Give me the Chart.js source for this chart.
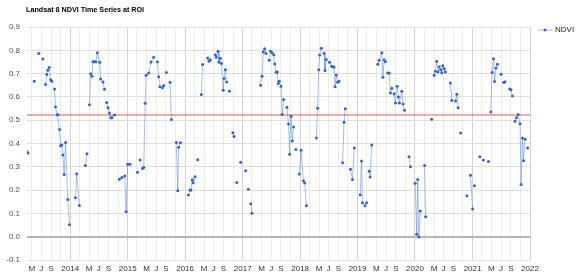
<!DOCTYPE html>
<html>
<head>
<meta charset="utf-8">
<script src="https://cdn.jsdelivr.net/npm/chart.js@4/dist/chart.umd.min.js"></script>
<style>
    html, body { margin: 0; padding: 0; background: #fff; }
</style>
</head>
<body>
<canvas id="ndviChart" width="576" height="276"></canvas>
<script>
/* ==================== Data ==================== */
const chartTitle = 'Landsat 8 NDVI Time Series at ROI';
const seriesName = 'NDVI';

// image dates; a null NDVI value is a cloudy scene and breaks the line
const dates = [
    // 2013
    '2013-04-01', '2013-04-07', '2013-05-01',
    '2013-05-17', '2013-06-01',
    '2013-06-15', '2013-06-30',
    '2013-07-11', '2013-07-20',
    '2013-07-28', '2013-08-05', '2013-08-11', '2013-08-20', '2013-08-29', '2013-09-06', '2013-09-14',
    '2013-09-23', '2013-09-29', '2013-10-10', '2013-10-14', '2013-10-25', '2013-10-31', '2013-11-08', '2013-11-15', '2013-11-23', '2013-12-02', '2013-12-16', '2013-12-27', '2014-01-15',
    // 2014
    '2014-02-03', '2014-02-11', '2014-02-28', '2014-03-20',
    '2014-04-07', '2014-04-17', '2014-04-25',
    '2014-05-03', '2014-05-11', '2014-05-19', '2014-05-25', '2014-06-03', '2014-06-12', '2014-06-22', '2014-07-07', '2014-07-13', '2014-07-28', '2014-08-06', '2014-08-13',
    '2014-08-20', '2014-08-29', '2014-09-06', '2014-09-15', '2014-09-23', '2014-10-10', '2014-10-25',
    '2014-11-09', '2014-11-25', '2014-12-13', '2014-12-22', '2015-01-01', '2015-01-16', '2015-02-10',
    // 2015
    '2015-03-04', '2015-03-12',
    '2015-03-21', '2015-03-28',
    '2015-04-05', '2015-04-13', '2015-04-22', '2015-04-28', '2015-05-15', '2015-05-29', '2015-06-15', '2015-06-28',
    '2015-07-09', '2015-07-17', '2015-07-25', '2015-08-10', '2015-08-18', '2015-08-26',
    '2015-09-04', '2015-09-15',
    '2015-09-27', '2015-10-06', '2015-10-20',
    '2015-11-06', '2015-11-15', '2015-11-21', '2015-12-02', '2015-12-20',
    // 2016
    '2016-01-22', '2016-02-01', '2016-02-07', '2016-02-15', '2016-02-21', '2016-03-04', '2016-03-12',
    '2016-03-21', '2016-04-05',
    '2016-04-13', '2016-04-21', '2016-05-07',
    '2016-05-23', '2016-06-01', '2016-06-09', '2016-06-25',
    '2016-07-11', '2016-07-17', '2016-07-28', '2016-08-03', '2016-08-12', '2016-08-19', '2016-08-30', '2016-09-05', '2016-09-13', '2016-09-21', '2016-10-01',
    '2016-10-09', '2016-10-20',
    '2016-10-30', '2016-11-07', '2016-11-15',
    '2016-11-24', '2016-12-05',
    '2016-12-19', '2017-01-05',
    // 2017
    '2017-01-20', '2017-01-28',
    '2017-02-06', '2017-02-14',
    '2017-02-21', '2017-03-01', '2017-04-01',
    '2017-04-25', '2017-05-04', '2017-05-12', '2017-05-20', '2017-05-29', '2017-06-10',
    '2017-06-19', '2017-06-27', '2017-07-06', '2017-07-17', '2017-07-24', '2017-08-02', '2017-08-09', '2017-08-15', '2017-08-21', '2017-09-01', '2017-09-09', '2017-09-18', '2017-09-28',
    '2017-10-09', '2017-10-19', '2017-10-26', '2017-11-04', '2017-11-12', '2017-11-20', '2017-11-28',
    '2017-12-05', '2017-12-15',
    '2017-12-27', '2018-01-07', '2018-01-22', '2018-01-30', '2018-02-10', '2018-03-10',
    // 2018
    '2018-04-14', '2018-04-22', '2018-04-29', '2018-05-05', '2018-05-16', '2018-05-24',
    '2018-06-02', '2018-06-08', '2018-06-16', '2018-06-28',
    '2018-07-07', '2018-07-20', '2018-07-29', '2018-08-04', '2018-08-11', '2018-08-19', '2018-08-27', '2018-09-05', '2018-09-18',
    '2018-09-28', '2018-10-07', '2018-10-15', '2018-11-01',
    '2018-11-17', '2018-11-30', '2018-12-11', '2018-12-30',
    // 2019
    '2019-01-18', '2019-01-26', '2019-02-01', '2019-02-17', '2019-02-28', '2019-03-08',
    '2019-03-16', '2019-03-22', '2019-04-01', '2019-04-20',
    '2019-05-10', '2019-05-18', '2019-06-04', '2019-06-11', '2019-06-19', '2019-06-27', '2019-07-05',
    '2019-07-12', '2019-07-21', '2019-07-29', '2019-08-07', '2019-08-14',
    '2019-08-21', '2019-08-30', '2019-09-09', '2019-09-18', '2019-09-24', '2019-10-09', '2019-10-17', '2019-10-26', '2019-11-10',
    '2019-11-24', '2019-12-03', '2019-12-20',
    // 2020
    '2020-01-02', '2020-01-12', '2020-01-18', '2020-01-26', '2020-02-04', '2020-02-20',
    '2020-03-02', '2020-03-09', '2020-03-30',
    '2020-04-16', '2020-04-25',
    '2020-05-02', '2020-05-10', '2020-05-18', '2020-05-26', '2020-06-03', '2020-06-12', '2020-06-19', '2020-06-26', '2020-07-05', '2020-07-12', '2020-07-28',
    '2020-08-13', '2020-08-22', '2020-09-05',
    '2020-09-15', '2020-09-23', '2020-10-01', '2020-10-09',
    '2020-10-17', '2020-11-10',
    '2020-11-26', '2020-12-08',
    '2020-12-19', '2021-01-01', '2021-01-07',
    // 2021
    '2021-01-13', '2021-02-01',
    '2021-02-16', '2021-02-28',
    '2021-03-10', '2021-03-25',
    '2021-04-12', '2021-04-20',
    '2021-04-27', '2021-05-05', '2021-05-14', '2021-05-21', '2021-05-30', '2021-06-08', '2021-06-20',
    '2021-07-01', '2021-07-10',
    '2021-07-18', '2021-07-26', '2021-08-10',
    '2021-08-25', '2021-09-02', '2021-09-11', '2021-09-20',
    '2021-09-28', '2021-10-07', '2021-10-17', '2021-10-30', '2021-11-05', '2021-11-14', '2021-11-21', '2021-12-01', '2021-12-09',
    '2021-12-17'
];

const ndvi = [
    // 2013
    0.364, 0.359, null,
    0.667, null,
    0.786, null,
    0.763, null,
    0.653, 0.696, 0.714, 0.726, 0.674, 0.667, null,
    0.634, 0.557, 0.523, 0.523, 0.460, 0.390, 0.394, 0.351, 0.267, 0.404, 0.160, 0.051, null,
    // 2014
    0.167, 0.270, 0.134, null,
    0.306, 0.356, null,
    0.566, 0.699, 0.689, 0.751, 0.751, 0.751, 0.790, 0.749, 0.677, 0.664, 0.633, null,
    0.576, 0.553, 0.531, 0.511, 0.511, 0.522, null,
    0.247, 0.254, 0.261, 0.107, 0.311, 0.311, null,
    // 2015
    0.277, null,
    0.329, null,
    0.293, 0.297, 0.573, 0.693, 0.703, 0.750, 0.770, null,
    0.751, 0.686, 0.644, 0.639, 0.649, null,
    0.705, null,
    0.663, 0.503, null,
    0.404, 0.197, 0.384, 0.403, null,
    // 2016
    0.179, 0.200, 0.200, 0.244, 0.232, 0.257, null,
    0.330, null,
    0.610, 0.739, null,
    0.767, 0.753, 0.759, null,
    0.781, 0.770, 0.796, 0.749, 0.766, 0.743, 0.629, 0.679, 0.716, 0.664, null,
    0.624, null,
    0.446, 0.430, null,
    0.233, null,
    0.319, null,
    // 2017
    0.283, null,
    0.204, null,
    0.141, 0.101, null,
    0.650, 0.689, 0.793, 0.807, 0.786, null,
    0.757, 0.796, 0.790, 0.781, 0.741, 0.706, 0.707, 0.657, 0.667, 0.646, 0.524, 0.589, null,
    0.556, 0.484, 0.354, 0.517, 0.411, 0.471, null,
    0.374, null,
    0.269, 0.371, 0.240, 0.231, 0.133, null,
    // 2018
    0.424, 0.551, 0.717, 0.780, 0.809, null,
    0.787, 0.713, 0.760, null,
    0.749, 0.731, 0.730, 0.727, 0.644, 0.694, 0.663, 0.667, null,
    0.317, 0.491, 0.549, null,
    0.290, 0.246, 0.381, null,
    // 2019
    0.180, 0.325, 0.146, 0.133, 0.146, null,
    0.281, 0.256, 0.394, null,
    0.740, 0.757, 0.789, 0.684, 0.759, 0.751, null,
    0.703, 0.703, 0.617, 0.637, null,
    0.613, 0.574, 0.646, 0.600, 0.574, 0.624, 0.570, 0.543, null,
    0.343, 0.300, null,
    // 2020
    0.229, 0.010, 0.246, -0.001, 0.110, null,
    0.306, 0.086, null,
    0.504, null,
    0.693, 0.710, 0.753, 0.707, 0.729, 0.717, 0.704, 0.734, 0.721, 0.707, null,
    0.660, 0.585, null,
    0.582, 0.611, 0.553, null,
    0.445, null,
    0.176, null,
    0.264, 0.119, null,
    // 2021
    0.219, null,
    0.343, null,
    0.329, null,
    0.323, null,
    0.535, 0.705, 0.764, 0.666, 0.724, 0.740, null,
    0.697, null,
    0.662, 0.665, null,
    0.634, 0.631, 0.604, null,
    0.495, 0.511, 0.525, 0.485, 0.224, 0.424, 0.326, 0.418, null,
    0.381
];

// reference level drawn in red across the whole period
const meanNdvi = 0.522;

// axes
const xStart = '2013-04-01';
const xEnd = '2022-01-01';
const tickMonths = [0, 2, 4, 6, 8, 10];
const monthLabels = ['', '', 'M', 'J', 'S', ''];
const yMin = -0.1;
const yMax = 0.9;
const yStep = 0.05;

/* ==================== Helpers ==================== */
const FONT_FAMILY = 'Arial, "Liberation Sans", sans-serif';

function buildMonthTicks() {
    const lo = Date.parse(xStart);
    const hi = Date.parse(xEnd);
    const ticks = [];
    for (let y = 2013; y <= 2022; y++) {
        tickMonths.forEach(m => {
            const v = Date.UTC(y, m, 1);
            if (v >= lo && v <= hi) ticks.push({ value: v });
        });
    }
    return ticks;
}

function buildValueTicks() {
    const ticks = [];
    const n = Math.round((yMax - yMin) / yStep);
    for (let i = 0; i <= n; i++) {
        ticks.push({ value: Math.round((yMin + i * yStep) * 100) / 100 });
    }
    return ticks;
}

function isYearTick(value) {
    return new Date(value).getUTCMonth() === 0;
}

/* ==================== Title & legend ==================== */
const titleLegend = {
    id: 'titleLegend',
    afterDraw(chart) {
        const ctx = chart.ctx;
        const area = chart.chartArea;
        ctx.save();
        ctx.textBaseline = 'middle';

        ctx.font = 'bold 7.2px ' + FONT_FAMILY;
        ctx.fillStyle = '#000';
        ctx.fillText(chartTitle, area.left - 1, 10);

        const ly = area.top + 3;
        const lx = area.right + 8;
        ctx.strokeStyle = 'rgba(51,102,204,0.45)';
        ctx.lineWidth = 1;
        ctx.beginPath();
        ctx.moveTo(lx, ly);
        ctx.lineTo(lx + 14, ly);
        ctx.stroke();
        ctx.fillStyle = '#3366cc';
        ctx.beginPath();
        ctx.arc(lx + 7, ly, 1.4, 0, Math.PI * 2);
        ctx.fill();

        ctx.font = '8px ' + FONT_FAMILY;
        ctx.fillStyle = '#222';
        ctx.fillText(seriesName, lx + 17, ly);
        ctx.restore();
    }
};

/* ==================== Chart ==================== */
const ndviPoints = dates.map((d, i) => ({ x: Date.parse(d), y: ndvi[i] }));

new Chart(document.getElementById('ndviChart'), {
    type: 'line',
    data: {
        datasets: [
            {
                label: seriesName,
                data: ndviPoints,
                borderColor: 'rgba(51,102,204,0.42)',
                borderWidth: 1,
                pointRadius: 1.5,
                pointBackgroundColor: '#3366cc',
                pointBorderWidth: 0,
                spanGaps: false,
                tension: 0,
                order: 1
            },
            {
                label: 'mean',
                data: [
                    { x: Date.parse(xStart), y: meanNdvi },
                    { x: Date.parse(xEnd), y: meanNdvi }
                ],
                borderColor: 'rgba(225,70,70,0.45)',
                borderWidth: 2,
                pointRadius: 0,
                order: 2
            }
        ]
    },
    options: {
        responsive: false,
        animation: false,
        layout: { padding: { top: 27, right: 46, left: 0, bottom: 0 } },
        plugins: {
            legend: { display: false },
            tooltip: { enabled: false },
            title: { display: false }
        },
        scales: {
            x: {
                type: 'linear',
                min: Date.parse(xStart),
                max: Date.parse(xEnd),
                afterBuildTicks: scale => { scale.ticks = buildMonthTicks(); },
                afterFit: scale => { scale.height = 16; },
                border: { display: false },
                grid: {
                    drawTicks: false,
                    color: ctx => (ctx.tick && isYearTick(ctx.tick.value)) ? '#d4d4d4' : '#ececec',
                    lineWidth: 1
                },
                ticks: {
                    autoSkip: false,
                    maxRotation: 0,
                    padding: 4,
                    color: '#333',
                    font: { family: FONT_FAMILY, size: 8 },
                    callback: value => {
                        const d = new Date(value);
                        const m = d.getUTCMonth();
                        return m === 0 ? String(d.getUTCFullYear()) : monthLabels[tickMonths.indexOf(m)];
                    }
                }
            },
            y: {
                min: yMin,
                max: yMax,
                afterBuildTicks: scale => { scale.ticks = buildValueTicks(); },
                afterFit: scale => { scale.width = 27; },
                border: { display: false },
                grid: {
                    drawTicks: false,
                    color: ctx => {
                        if (!ctx.tick) return '#ececec';
                        const k = Math.round(ctx.tick.value * 100);
                        if (k === 0) return '#b5b5b5';
                        return k % 10 === 0 ? '#e0e0e0' : '#f2f2f2';
                    },
                    lineWidth: ctx => (ctx.tick && Math.round(ctx.tick.value * 100) === 0) ? 2 : 1
                },
                ticks: {
                    padding: 7,
                    color: '#555',
                    font: { family: FONT_FAMILY, size: 8 },
                    callback: value => {
                        const k = Math.round(value * 100);
                        return k % 10 === 0 ? (k / 100).toFixed(1) : '';
                    }
                }
            }
        }
    },
    plugins: [titleLegend]
});
</script>
</body>
</html>
